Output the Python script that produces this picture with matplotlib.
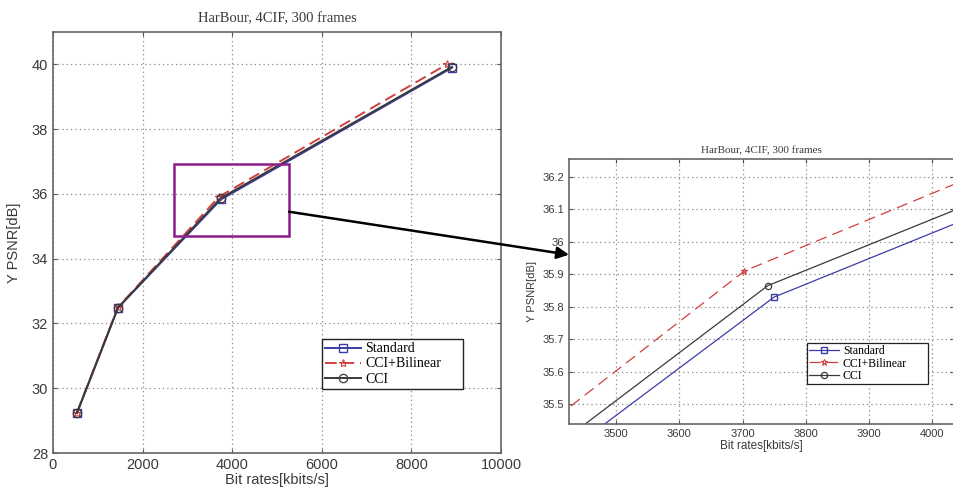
"""
Rate-distortion curves for HarBour 4CIF with a zoomed inset around 3.7 Mbit/s.
"""

import matplotlib
matplotlib.use("Agg")
import matplotlib.pyplot as plt
from matplotlib.patches import Rectangle, ConnectionPatch

# data
bitrate_std = [535, 1450, 3750, 8910]
psnr_std = [29.23, 32.48, 35.83, 39.90]
bitrate_bil = [535, 1450, 3703, 8790]
psnr_bil = [29.25, 32.50, 35.91, 40.00]
bitrate_cci = [535, 1450, 3740, 8900]
psnr_cci = [29.24, 32.49, 35.865, 39.92]
labels = ["Standard", "CCI+Bilinear", "CCI"]
title = "HarBour, 4CIF, 300 frames"

SERIF = ["Liberation Serif", "DejaVu Serif"]
SANS = ["Liberation Sans", "DejaVu Sans"]
TXT = "#3a3a3a"

fig = plt.figure(figsize=(9.54, 4.91), dpi=100)
ax1 = fig.add_axes([53/954, 38/491, 448/954, 421/491])
ax2 = fig.add_axes([569/954, 67/491, 385/954, 265/491])


def draw(ax, lw, ms, fs, dash):
    ax.plot(bitrate_std, psnr_std, '-s', color='#3c3ca8', lw=lw, ms=ms,
            mfc='none', mew=1.0, label=labels[0])
    ax.plot(bitrate_bil, psnr_bil, '--*', color='#d04040', lw=lw, ms=ms,
            mfc='none', mew=0.8, dashes=dash, label=labels[1])
    ax.plot(bitrate_cci, psnr_cci, '-o', color='#3a3a3a', lw=lw, ms=ms,
            mfc='none', mew=0.9, label=labels[2])
    ax.grid(True, linestyle=(0, (1, 2.5)), color='#8a8a8a', lw=0.9)
    ax.tick_params(direction='in', top=True, right=True, labelsize=fs,
                   labelcolor=TXT, color='#555555', length=3)
    for s in ax.spines.values():
        s.set_color('#666666')
        s.set_linewidth(1.2)


# main chart
draw(ax1, 1.4, 6, 10.5, (6, 3))
ax1.set_xlim(0, 10000)
ax1.set_ylim(28, 41)
ax1.set_xticks([0, 2000, 4000, 6000, 8000, 10000])
ax1.set_yticks([28, 30, 32, 34, 36, 38, 40])
for lab in ax1.get_xticklabels() + ax1.get_yticklabels():
    lab.set_family(SANS)
ax1.set_title(title, family=SERIF, fontsize=10.5, color=TXT, pad=7)
ax1.set_xlabel("Bit rates[kbits/s]", family=SANS, fontsize=10.5, color=TXT, labelpad=1)
ax1.set_ylabel("Y PSNR[dB]", family=SANS, fontsize=10.5, color=TXT, labelpad=8)
leg1 = ax1.legend(loc='lower left', bbox_to_anchor=(0.60, 0.152, 0.315, 0.16),
                  mode='expand', prop={'family': SERIF, 'size': 10},
                  fancybox=False, edgecolor='#222222', framealpha=1,
                  handlelength=2.6, borderpad=0.25, labelspacing=0.15,
                  handletextpad=0.3, borderaxespad=0)
leg1.get_frame().set_linewidth(1.0)

# zoom box on main chart
ax1.add_patch(Rectangle((2700, 34.7), 2570, 2.23, fill=False,
                        edgecolor='#8a1f8a', lw=1.8, zorder=5))

# inset chart
draw(ax2, 0.9, 4.5, 8, (9, 5))
ax2.set_xlim(3426, 4034)
ax2.set_ylim(35.44, 36.254)
ax2.set_xticks([3500, 3600, 3700, 3800, 3900, 4000])
ax2.set_yticks([35.5, 35.6, 35.7, 35.8, 35.9, 36.0, 36.1, 36.2])
ax2.set_yticklabels(["35.5", "35.6", "35.7", "35.8", "35.9", "36", "36.1", "36.2"])
for lab in ax2.get_xticklabels() + ax2.get_yticklabels():
    lab.set_family(SANS)
ax2.spines['right'].set_visible(False)
ax2.set_title(title, family=SERIF, fontsize=8, color=TXT, pad=4)
ax2.set_xlabel("Bit rates[kbits/s]", family=SANS, fontsize=8.5, color=TXT, labelpad=1)
ax2.set_ylabel("Y PSNR[dB]", family=SANS, fontsize=8, color=TXT, labelpad=4)
leg2 = ax2.legend(loc='lower left', bbox_to_anchor=(0.618, 0.151, 0.314, 0.155),
                  mode='expand', prop={'family': SERIF, 'size': 8.5},
                  fancybox=False, edgecolor='#222222', framealpha=1,
                  handlelength=2.6, borderpad=0.15, labelspacing=0.05,
                  handletextpad=0.3, borderaxespad=0)
leg2.get_frame().set_linewidth(0.9)

# arrow from zoom box to inset
arrow = ConnectionPatch(xyA=(5270, 35.45), coordsA=ax1.transData,
                        xyB=(3426, 35.96), coordsB=ax2.transData,
                        arrowstyle='-|>', color='black', lw=1.8,
                        mutation_scale=18)
fig.add_artist(arrow)

fig.savefig("out.png", dpi=100)
